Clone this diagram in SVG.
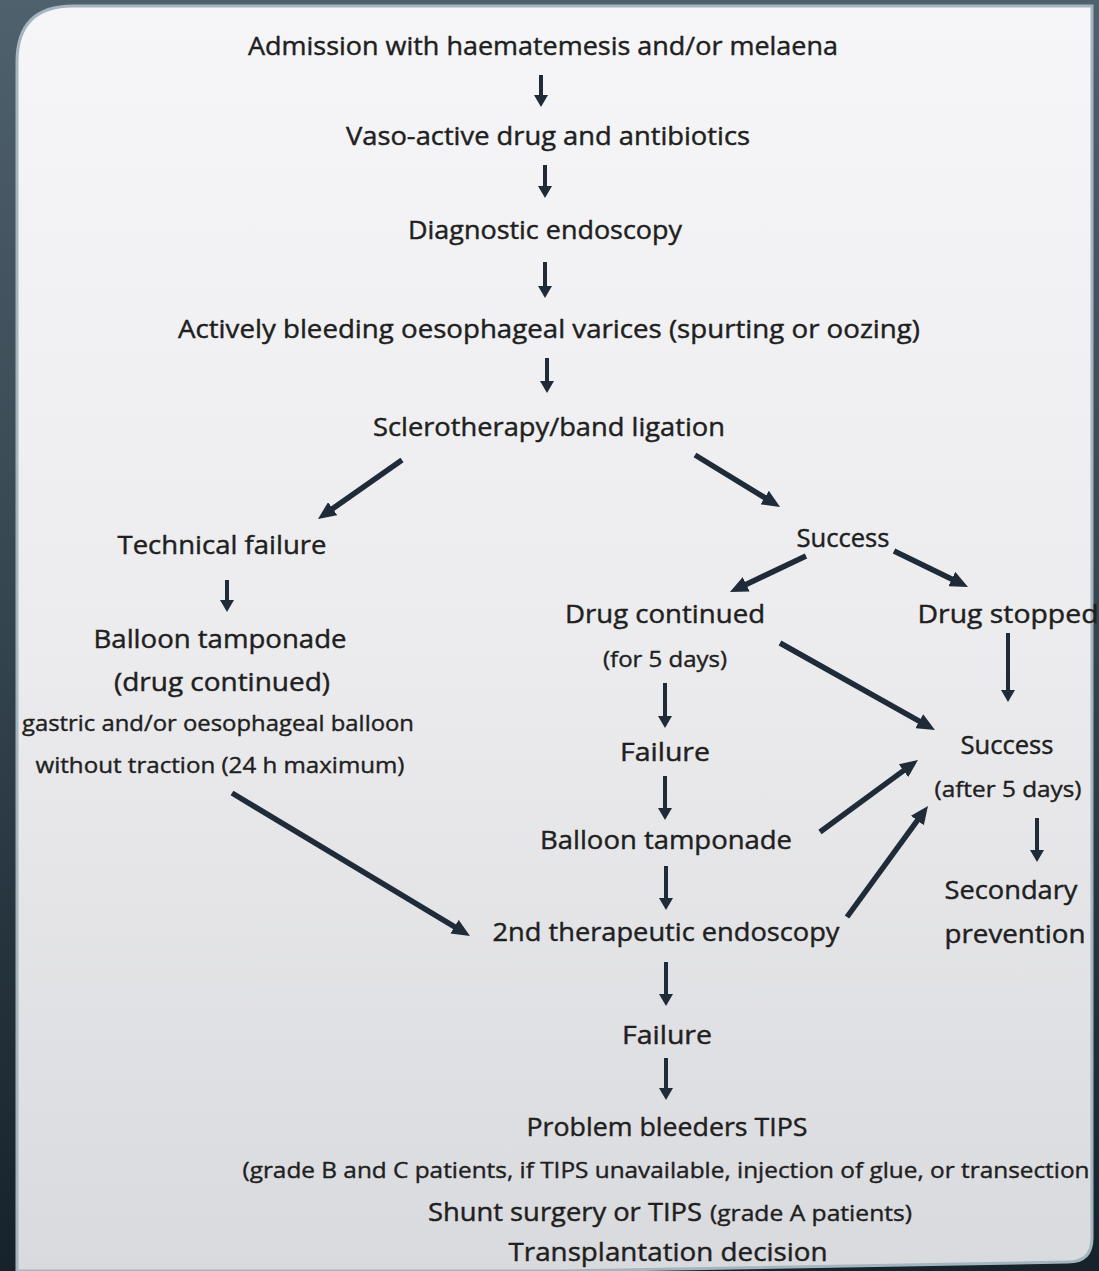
<svg xmlns="http://www.w3.org/2000/svg" width="1099" height="1271" viewBox="0 0 1099 1271">
<defs>
<linearGradient id="bg" x1="0" y1="0" x2="0" y2="1">
<stop offset="0" stop-color="#4f616d"/>
<stop offset="0.5" stop-color="#34444f"/>
<stop offset="1" stop-color="#17222b"/>
</linearGradient>
<linearGradient id="page" x1="0" y1="0" x2="0" y2="1">
<stop offset="0" stop-color="#f6f6f8"/>
<stop offset="0.5" stop-color="#ececee"/>
<stop offset="1" stop-color="#d9dade"/>
</linearGradient>
<marker id="ah" viewBox="0 0 18 16" refX="6" refY="8" markerWidth="18" markerHeight="16" markerUnits="userSpaceOnUse" orient="auto">
<path d="M0,0 L18,8 L0,16 z" fill="#1f2b38"/>
</marker>
<marker id="ahs" viewBox="0 0 12 14" refX="2" refY="7" markerWidth="12" markerHeight="14" markerUnits="userSpaceOnUse" orient="auto">
<path d="M0,0 L12,7 L0,14 z" fill="#1f2b38"/>
</marker>
<style>
text{font-family:"Open Sans","Noto Sans","Liberation Sans",sans-serif;fill:#1f1f1f;stroke:#1f1f1f;stroke-width:0.45;text-anchor:middle;font-size:26px}
.s{font-size:22px;stroke-width:0.4}
.d{stroke:#1f2b38;stroke-width:5.5;fill:none;marker-end:url(#ah)}
.v{stroke:#1f2b38;stroke-width:4;fill:none;marker-end:url(#ahs)}
</style>
</defs>
<rect x="0" y="0" width="1099" height="1271" fill="url(#bg)"/>
<path d="M17,1271 L17,62 Q17,6 73,6 L1092,6 L1092,1238 Q1092,1262 1068,1262 L560,1271 Z" fill="url(#page)" stroke="#a3b6bf" stroke-width="3"/>

<g id="connectors">
<line class="v" x1="541" y1="75" x2="541" y2="97"/>
<line class="v" x1="545" y1="165" x2="545" y2="188"/>
<line class="v" x1="545" y1="262" x2="545" y2="288"/>
<line class="v" x1="547" y1="358" x2="547" y2="383"/>
<line class="v" x1="227" y1="580" x2="227" y2="602"/>
<line class="v" x1="1008" y1="633" x2="1008" y2="692"/>
<line class="v" x1="665" y1="683" x2="665" y2="718"/>
<line class="v" x1="665" y1="776" x2="665" y2="810"/>
<line class="v" x1="1037" y1="818" x2="1037" y2="852"/>
<line class="v" x1="666" y1="866" x2="666" y2="900"/>
<line class="v" x1="666" y1="962" x2="666" y2="996"/>
<line class="v" x1="666" y1="1058" x2="666" y2="1090"/>
<line class="d" x1="402" y1="460" x2="327.8" y2="512.1"/>
<line class="d" x1="695" y1="455" x2="769.8" y2="500.7"/>
<line class="d" x1="806" y1="556" x2="740.8" y2="586.9"/>
<line class="d" x1="894" y1="551" x2="957.2" y2="581.7"/>
<line class="d" x1="780" y1="643" x2="924.5" y2="724.1"/>
<line class="d" x1="820" y1="832" x2="908.3" y2="767.1"/>
<line class="d" x1="847" y1="917" x2="920.9" y2="815.7"/>
<line class="d" x1="232" y1="793" x2="459.7" y2="929.8"/>
</g>

<g id="n-admission"><text x="543" y="55" textLength="590" lengthAdjust="spacingAndGlyphs">Admission with haematemesis and/or melaena</text></g>
<g id="n-vaso"><text x="548" y="145" textLength="404" lengthAdjust="spacingAndGlyphs">Vaso-active drug and antibiotics</text></g>
<g id="n-diag"><text x="545" y="239" textLength="274" lengthAdjust="spacingAndGlyphs">Diagnostic endoscopy</text></g>
<g id="n-active"><text x="549" y="338" textLength="742" lengthAdjust="spacingAndGlyphs">Actively bleeding oesophageal varices (spurting or oozing)</text></g>
<g id="n-sclero"><text x="549" y="436" textLength="352" lengthAdjust="spacingAndGlyphs">Sclerotherapy/band ligation</text></g>
<g id="n-techfail"><text x="222" y="554" textLength="209" lengthAdjust="spacingAndGlyphs">Technical failure</text></g>
<g id="n-balloon1">
<text x="220" y="648" textLength="253" lengthAdjust="spacingAndGlyphs">Balloon tamponade</text>
<text x="222" y="691" textLength="216" lengthAdjust="spacingAndGlyphs">(drug continued)</text>
<text class="s" x="218" y="731" textLength="392" lengthAdjust="spacingAndGlyphs">gastric and/or oesophageal balloon</text>
<text class="s" x="220" y="773" textLength="369" lengthAdjust="spacingAndGlyphs">without traction (24 h maximum)</text>
</g>
<g id="n-success1"><text x="843" y="547" textLength="93" lengthAdjust="spacingAndGlyphs">Success</text></g>
<g id="n-drugcont">
<text x="665" y="623" textLength="200" lengthAdjust="spacingAndGlyphs">Drug continued</text>
<text class="s" x="665" y="667" textLength="124" lengthAdjust="spacingAndGlyphs">(for 5 days)</text>
</g>
<g id="n-drugstop"><text x="1008" y="623" textLength="181" lengthAdjust="spacingAndGlyphs">Drug stopped</text></g>
<g id="n-failure1"><text x="665" y="761" textLength="90" lengthAdjust="spacingAndGlyphs">Failure</text></g>
<g id="n-success2">
<text x="1007" y="754" textLength="93" lengthAdjust="spacingAndGlyphs">Success</text>
<text class="s" x="1008" y="797" textLength="147" lengthAdjust="spacingAndGlyphs">(after 5 days)</text>
</g>
<g id="n-balloon2"><text x="666" y="849" textLength="252" lengthAdjust="spacingAndGlyphs">Balloon tamponade</text></g>
<g id="n-secondary">
<text x="1011" y="899" textLength="133" lengthAdjust="spacingAndGlyphs">Secondary</text>
<text x="1015" y="943" textLength="141" lengthAdjust="spacingAndGlyphs">prevention</text>
</g>
<g id="n-2nd"><text x="666" y="941" textLength="347" lengthAdjust="spacingAndGlyphs">2nd therapeutic endoscopy</text></g>
<g id="n-failure2"><text x="667" y="1044" textLength="90" lengthAdjust="spacingAndGlyphs">Failure</text></g>
<g id="n-problem">
<text x="667" y="1136" textLength="281" lengthAdjust="spacingAndGlyphs">Problem bleeders TIPS</text>
<text class="s" x="666" y="1178" textLength="847" lengthAdjust="spacingAndGlyphs">(grade B and C patients, if TIPS unavailable, injection of glue, or transection</text>
<text x="565" y="1221" textLength="274" lengthAdjust="spacingAndGlyphs">Shunt surgery or TIPS</text>
<text class="s" x="811" y="1221" textLength="202" lengthAdjust="spacingAndGlyphs">(grade A patients)</text>
<text x="668" y="1261" textLength="319" lengthAdjust="spacingAndGlyphs">Transplantation decision</text>
</g>
</svg>
